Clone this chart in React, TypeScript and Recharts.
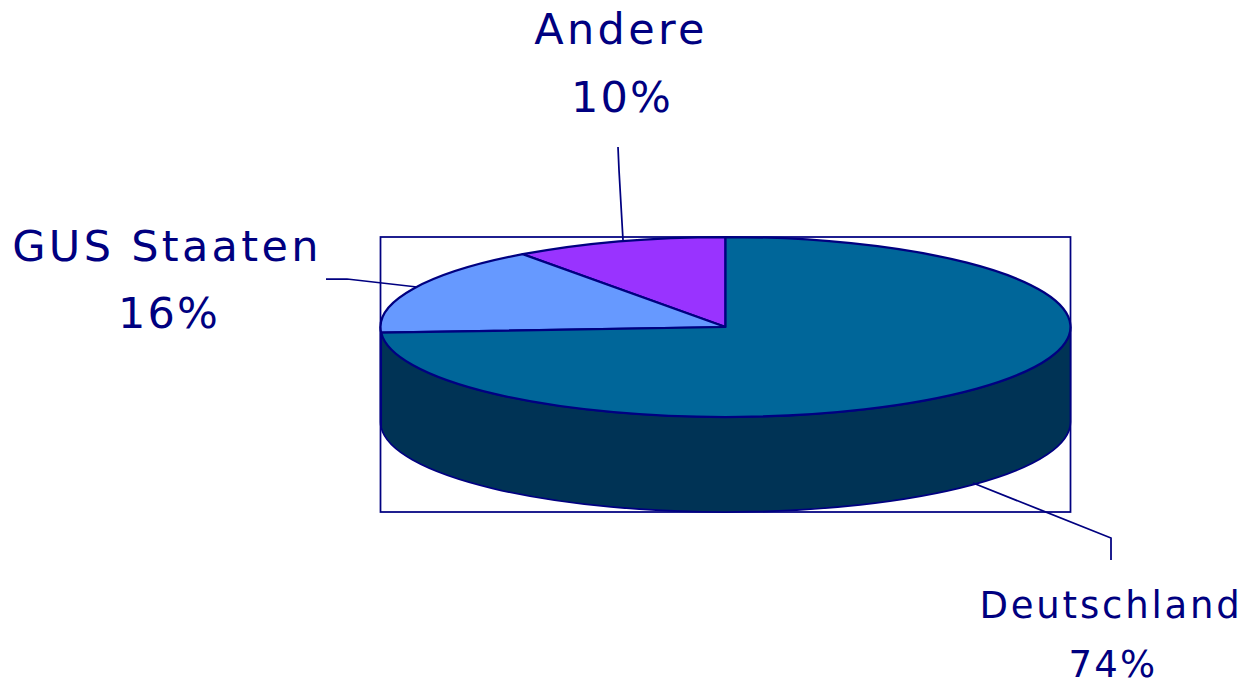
import { PieChart, Pie } from 'recharts'

const categories = ['Andere', 'GUS Staaten', 'Deutschland']
const shares = [10, 16, 74]
const sliceColors = ['#9933FF', '#6699FF', '#006699']

const WIDTH = 1246
const HEIGHT = 681
const CX = 725.5
const CY = 327
const RADIUS = 345
const SQUASH = 90 / 345
const DEPTH = 95
const NAVY = '#000080'
const WALL = '#003355'
const FONT = '"DejaVu Sans", Verdana, sans-serif'

const tableData = categories.map((name, i) => ({ name, value: shares[i], fill: sliceColors[i] }))

// text anchors and leader lines for each slice, in slice order
const LABELS = [
  { nameX: 621, pctX: 622, nameY: 44, pctY: 112, size: 43, nameSpacing: 3.3, pctSpacing: 2.2, leader: '618,147 619,170 623,240' },
  { nameX: 167, pctX: 169, nameY: 261, pctY: 328, size: 43, nameSpacing: 3.3, pctSpacing: 2.2, leader: '326,279 347,279 417,287' },
  { nameX: 1111, pctX: 1113, nameY: 618, pctY: 677, size: 37, nameSpacing: 2.8, pctSpacing: 2.2, leader: '973,483 1111,538 1111,560' },
]

function ellipsePoint(cx: number, cy: number, r: number, deg: number) {
  const a = (deg * Math.PI) / 180
  return { x: cx + r * Math.cos(a), y: cy - r * SQUASH * Math.sin(a) }
}

/** Part of the rim wall that faces the viewer (180..360 deg) for one slice */
function wallPath(cx: number, cy: number, r: number, start: number, end: number) {
  const from = Math.max(start, 180)
  const to = Math.min(end, 360)
  if (to <= from) return null
  const ry = r * SQUASH
  const a = ellipsePoint(cx, cy, r, from)
  const b = ellipsePoint(cx, cy, r, to)
  return `M${a.x},${a.y} A${r},${ry} 0 0 0 ${b.x},${b.y} L${b.x},${b.y + DEPTH} A${r},${ry} 0 0 1 ${a.x},${a.y + DEPTH} Z`
}

function FlatSlice(props: any) {
  const { cx, cy, outerRadius: r, startAngle, endAngle, fill } = props
  const ry = r * SQUASH
  const a = ellipsePoint(cx, cy, r, startAngle)
  const b = ellipsePoint(cx, cy, r, endAngle)
  const large = endAngle - startAngle > 180 ? 1 : 0
  const wall = wallPath(cx, cy, r, startAngle, endAngle)
  return (
    <g>
      {wall && <path d={wall} fill={WALL} stroke={NAVY} strokeWidth={1.75} strokeLinejoin="round" />}
      <path
        d={`M${cx},${cy} L${a.x},${a.y} A${r},${ry} 0 ${large} 0 ${b.x},${b.y} Z`}
        fill={fill}
        stroke={NAVY}
        strokeWidth={2.25}
        strokeLinejoin="round"
      />
    </g>
  )
}

function SliceLabel(props: any) {
  const { index, name, value } = props
  const l = LABELS[index]
  const textProps = {
    textAnchor: 'middle' as const,
    fill: NAVY,
    fontFamily: FONT,
    fontSize: l.size,
  }
  return (
    <g>
      <polyline points={l.leader} fill="none" stroke={NAVY} strokeWidth={1.75} />
      <text {...textProps} x={l.nameX} y={l.nameY} letterSpacing={l.nameSpacing}>{name}</text>
      <text {...textProps} x={l.pctX} y={l.pctY} letterSpacing={l.pctSpacing}>{`${value}%`}</text>
    </g>
  )
}

export default function App() {
  return (
    <div style={{ position: 'fixed', left: 0, top: 0, width: WIDTH, height: HEIGHT, background: '#fff' }}>
      <PieChart width={WIDTH} height={HEIGHT} margin={{ top: 0, right: 0, bottom: 0, left: 0 }}>
        <Pie
          data={tableData}
          dataKey="value"
          nameKey="name"
          cx={CX}
          cy={CY}
          innerRadius={0}
          outerRadius={RADIUS}
          startAngle={90}
          endAngle={450}
          paddingAngle={0}
          stroke="none"
          shape={FlatSlice}
          label={SliceLabel}
          labelLine={false}
          isAnimationActive={false}
        />
        <rect
          x={CX - RADIUS}
          y={CY - RADIUS * SQUASH}
          width={RADIUS * 2}
          height={RADIUS * SQUASH * 2 + DEPTH}
          fill="none"
          stroke={NAVY}
          strokeWidth={1.75}
        />
      </PieChart>
    </div>
  )
}
